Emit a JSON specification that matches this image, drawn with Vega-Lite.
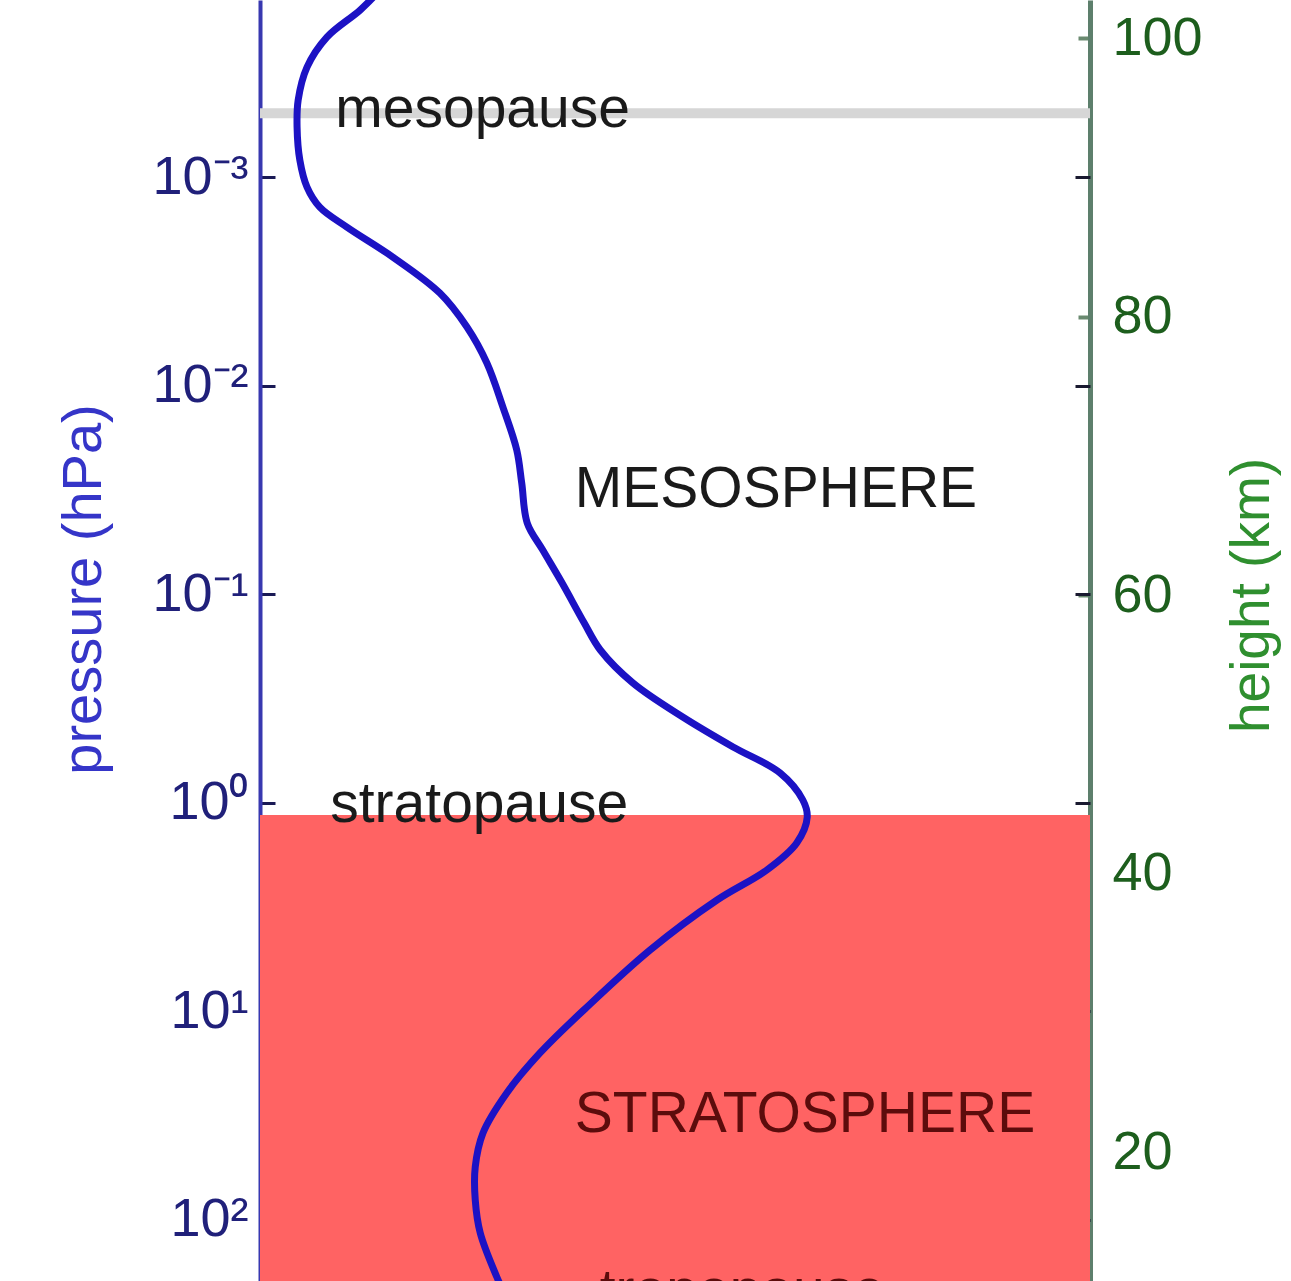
{
  "$schema": "https://vega.github.io/schema/vega-lite/v6.json",
  "autosize": {"type": "none"},
  "width": 830,
  "height": 1281,
  "padding": {"left": 260, "top": 0, "right": 201, "bottom": 0},
  "background": "white",
  "config": {
    "view": {"stroke": null},
    "font": "Liberation Sans",
    "axis": {"grid": false, "zindex": 1, "labelFont": "Liberation Sans", "titleFont": "Liberation Sans", "titleFontWeight": "normal", "labelOverlap": false, "labelFlush": false}
  },
  "datasets": {
    "profile": [
      {"p": 1.269e-4, "T": 191.7},
      {"p": 1.582e-4, "T": 188.1},
      {"p": 2.132e-4, "T": 182.1},
      {"p": 2.970e-4, "T": 178.5},
      {"p": 4.274e-4, "T": 176.9},
      {"p": 5.758e-4, "T": 176.7},
      {"p": 8.291e-4, "T": 177.2},
      {"p": 1.117e-3, "T": 178.5},
      {"p": 1.393e-3, "T": 180.8},
      {"p": 1.737e-3, "T": 185.7},
      {"p": 2.418e-3, "T": 194.0},
      {"p": 3.598e-3, "T": 202.5},
      {"p": 5.238e-3, "T": 207.4},
      {"p": 7.792e-3, "T": 211.0},
      {"p": 1.267e-2, "T": 213.9},
      {"p": 2.035e-2, "T": 216.4},
      {"p": 2.930e-2, "T": 217.3},
      {"p": 4.557e-2, "T": 218.3},
      {"p": 6.140e-2, "T": 221.1},
      {"p": 8.839e-2, "T": 224.6},
      {"p": 0.1374, "T": 228.6},
      {"p": 0.1851, "T": 231.5},
      {"p": 0.2665, "T": 237.4},
      {"p": 0.3879, "T": 246.4},
      {"p": 0.5401, "T": 255.5},
      {"p": 0.7196, "T": 264.0},
      {"p": 0.9696, "T": 268.1},
      {"p": 1.170, "T": 268.9},
      {"p": 1.558, "T": 267.0},
      {"p": 2.099, "T": 261.6},
      {"p": 2.924, "T": 252.6},
      {"p": 5.078, "T": 240.5},
      {"p": 9.526, "T": 229.1},
      {"p": 15.83, "T": 220.6},
      {"p": 24.61, "T": 214.6},
      {"p": 38.28, "T": 210.3},
      {"p": 55.70, "T": 208.9},
      {"p": 80.19, "T": 208.9},
      {"p": 115.4, "T": 209.8},
      {"p": 187.7, "T": 212.8},
      {"p": 228.8, "T": 214.3}
    ],
    "layers": [
      {"name": "mesopause", "z": 94.6},
      {"name": "stratosphere", "z": 44.2, "z_bottom": 0}
    ],
    "labels": [
      {"text": "mesopause", "T": 183.6, "p": 5.76e-4, "kind": "pause"},
      {"text": "MESOSPHERE", "T": 226.9, "p": 0.0382, "kind": "pause"},
      {"text": "stratopause", "T": 182.7, "p": 1.236, "kind": "pause"},
      {"text": "STRATOSPHERE", "T": 226.9, "p": 37.84, "kind": "inside"},
      {"text": "tropopause", "T": 231.4, "p": 266.0, "kind": "inside"}
    ]
  },
  "resolve": {"scale": {"y": "independent"}},
  "layer": [
    {
      "data": {"name": "layers"},
      "layer": [
        {
          "transform": [{"filter": "datum.name === 'stratosphere'"}],
          "mark": {"type": "rect", "color": "#ff6363", "clip": true},
          "encoding": {
            "y": {
              "field": "z", "type": "quantitative",
              "scale": {"domain": [10.74, 102.73], "nice": false, "zero": false},
              "axis": {
                "orient": "right", "values": [20, 40, 60, 80, 100],
                "labelFontSize": 54, "labelColor": "#1d5e1d", "labelPadding": 34, "labelBaseline": "middle",
                "tickSize": -12, "tickColor": "#6a8a70", "tickWidth": 4,
                "domainColor": "#5d7f6c", "domainWidth": 5,
                "title": "height (km)", "titleFontSize": 55, "titleColor": "#2f8f2f",
                "titleAngle": 270, "titleBaseline": "alphabetic", "titleX": 178, "titleY": 595
              }
            },
            "y2": {"field": "z_bottom"}
          }
        },
        {
          "transform": [{"filter": "datum.name === 'mesopause'"}],
          "mark": {"type": "rule", "color": "#d6d6d6", "strokeWidth": 10},
          "encoding": {"y": {"field": "z", "type": "quantitative"}}
        }
      ]
    },
    {
      "data": {"name": "profile"},
      "mark": {"type": "line", "color": "#1c12c4", "strokeWidth": 7, "interpolate": "catmull-rom", "clip": true},
      "encoding": {
        "x": {"field": "T", "type": "quantitative", "scale": {"domain": [170, 320], "nice": false, "zero": false}, "axis": null},
        "y": {
          "field": "p", "type": "quantitative",
          "scale": {"type": "log", "domain": [1.416e-4, 196.2], "reverse": true, "nice": false},
          "axis": {
            "orient": "left", "values": [0.001, 0.01, 0.1, 1, 10, 100],
            "labelExpr": "'10' + ['⁻³','⁻²','⁻¹','⁰','¹','²'][round(log(datum.value)/LN10) + 3]",
            "labelFontSize": 54, "labelColor": "#20207a", "labelPadding": 27, "labelBaseline": "middle",
            "tickSize": -15, "tickColor": "#1a1a55", "tickWidth": 3,
            "domainColor": "#3838b0", "domainWidth": 4,
            "title": "pressure (hPa)", "titleFontSize": 56, "titleColor": "#3535c8",
            "titleAngle": 270, "titleBaseline": "alphabetic", "titleX": -160, "titleY": 589
          }
        },
        "order": {"field": "p", "type": "quantitative"}
      }
    },
    {
      "data": {"name": "labels"},
      "mark": {"type": "text", "align": "left", "baseline": "alphabetic", "fontSize": 57, "font": "Liberation Sans"},
      "encoding": {
        "x": {"field": "T", "type": "quantitative"},
        "y": {
          "field": "p", "type": "quantitative",
          "scale": {"type": "log", "domain": [1.416e-4, 196.2], "reverse": true, "nice": false},
          "axis": {
            "orient": "right", "values": [0.001, 0.01, 0.1, 1, 10, 100],
            "labels": false, "domain": false, "title": null,
            "tickSize": -15, "tickColor": "#1a1a30", "tickWidth": 3
          }
        },
        "text": {"field": "text"},
        "color": {
          "field": "kind", "type": "nominal",
          "scale": {"domain": ["pause", "inside"], "range": ["#1a1a1a", "#5c0c0c"]},
          "legend": null
        }
      }
    }
  ]
}
